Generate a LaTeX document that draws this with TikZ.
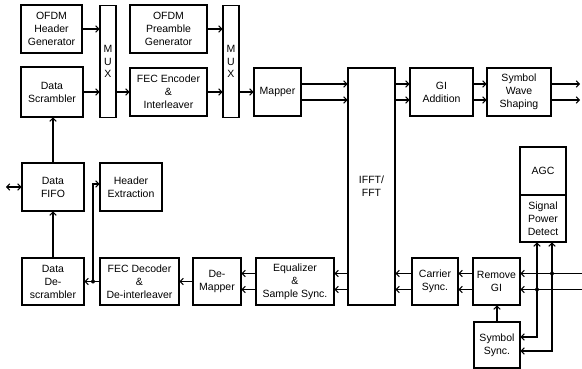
\documentclass[tikz,border=0pt]{standalone}
\usepackage{fontspec}
\setmainfont{Liberation Sans}
\usetikzlibrary{arrows.meta,positioning}

\begin{document}
\begin{tikzpicture}[x=1pt,y=-1pt,line width=1.1pt,
  blk/.style={draw,align=center,inner sep=1pt,font=\fontsize{10.5}{13}\selectfont},
  muxbox/.style={blk,minimum width=16,minimum height=112,font=\fontsize{10.5}{12.5}\selectfont},
  arr/.style={-{Straight Barb[length=3pt,width=6.5pt]}},
  dblarr/.style={{Straight Barb[length=3pt,width=6.5pt]}-{Straight Barb[length=3pt,width=6.5pt]}}]
\useasboundingbox (0,0) rectangle (582,369);
% transmit side
\node[blk,minimum width=61,minimum height=48] (hdrgen) at (51.5,29) {OFDM\\Header\\Generator};
\node[blk,minimum width=62,minimum height=50] (scram) at (52,92) {Data\\Scrambler};
\node[muxbox] (muxa) at (108,61.5) {M\\U\\X};
\node[blk,minimum width=77,minimum height=48] (pre) at (168.5,29) {OFDM\\Preamble\\Generator};
\node[blk,minimum width=77,minimum height=48] (fecenc) at (168.5,92) {FEC Encoder\\\&\\Interleaver};
\node[muxbox] (muxb) at (231,61.5) {M\\U\\X};
\node[blk,minimum width=47,minimum height=48] (mapper) at (277.5,92) {Mapper};
\node[blk,minimum width=47,minimum height=237] (ifft) at (371.5,186.5) {IFFT/\\FFT};
\node[blk,minimum width=63,minimum height=48] (gi) at (441.5,92) {GI\\Addition};
\node[blk,minimum width=64,minimum height=48] (sws) at (519,92) {Symbol\\Wave\\Shaping};
% receive side
\node[blk,minimum width=62,minimum height=48] (fifo) at (53,187) {Data\\FIFO};
\node[blk,minimum width=62,minimum height=48] (hdrext) at (131,187) {Header\\Extraction};
\node[blk,minimum width=62,minimum height=47] (descr) at (53,281.5) {Data\\De-\\scrambler};
\node[blk,minimum width=79,minimum height=47] (fecdec) at (139.5,281.5) {FEC Decoder\\\&\\De-interleaver};
\node[blk,minimum width=48,minimum height=47] (demap) at (217,281.5) {De-\\Mapper};
\node[blk,minimum width=78,minimum height=47] (eq) at (295,281.5) {Equalizer\\\&\\Sample Sync.};
\node[blk,minimum width=46,minimum height=47] (carrier) at (435,281.5) {Carrier\\Sync.};
\node[blk,minimum width=47,minimum height=47] (rmgi) at (496.5,281.5) {Remove\\GI};
\node[blk,minimum width=46,minimum height=48] (agc) at (543,171) {AGC};
\node[blk,minimum width=46,minimum height=47] (spd) at (543,218.5) {Signal\\Power\\Detect};
\node[blk,minimum width=46,minimum height=46] (symsync) at (497,345) {Symbol\\Sync.};

\coordinate (io) at (6,187);
\coordinate (outa) at (580,84);
\coordinate (outb) at (580,100);
\coordinate (ina) at (582,273.5);
\coordinate (inb) at (582,289.5);
\coordinate (ja) at (552,273.5);
\coordinate (jb) at (537,289.5);
\coordinate (jd) at (93,281.5);

\draw[arr] (hdrgen) -- (hdrgen -| muxa.west);
\draw[arr] (scram) -- (scram -| muxa.west);
\draw[arr] (muxa.east |- fecenc) -- (fecenc);
\draw[arr] (pre) -- (pre -| muxb.west);
\draw[arr] (fecenc) -- (fecenc -| muxb.west);
\draw[arr] (muxb.east |- mapper) -- (mapper);
\foreach \s in {8,-8} {
  \draw[arr] ([yshift=\s]mapper.east) -- ([yshift=\s]mapper.east -| ifft.west);
  \draw[arr] ([yshift=\s]gi.west -| ifft.east) -- ([yshift=\s]gi.west);
  \draw[arr] ([yshift=\s]gi.east) -- ([yshift=\s]sws.west);
  \draw[arr] ([yshift=\s]eq.west) -- ([yshift=\s]demap.east);
  \draw[arr] ([yshift=\s]eq.east -| ifft.west) -- ([yshift=\s]eq.east);
  \draw[arr] ([yshift=\s]carrier.west) -- ([yshift=\s]carrier.west -| ifft.east);
  \draw[arr] ([yshift=\s]rmgi.west) -- ([yshift=\s]carrier.east);
}
\draw[arr] ([yshift=8]sws.east) -- (outa);
\draw[arr] ([yshift=-8]sws.east) -- (outb);
\draw[arr] (ina) -- (ina -| rmgi.east);
\draw[arr] (inb) -- (inb -| rmgi.east);
\fill (ja) circle (2pt);
\fill (jb) circle (2pt);
\draw[arr] (ja) -- (ja |- spd.south);
\draw[arr] (jb) -- (jb |- spd.south);
\draw[arr] (jb) |- ([yshift=8]symsync.east);
\draw[arr] (ja) |- ([yshift=-6]symsync.east);
\draw[arr] (symsync.north) -- (symsync.north |- rmgi.south);
\draw[arr] (fifo.north) -- (fifo.north |- scram.south);
\draw[arr] (descr.north) -- (descr.north |- fifo.south);
\draw[dblarr] (io) -- (fifo.west);
\draw[arr] (demap) -- (fecdec);
\draw[arr] (fecdec.west) -- (descr.east);
\fill (jd) circle (2pt);
\draw[arr] (jd) |- ([yshift=3]hdrext.west);
\end{tikzpicture}
\end{document}
